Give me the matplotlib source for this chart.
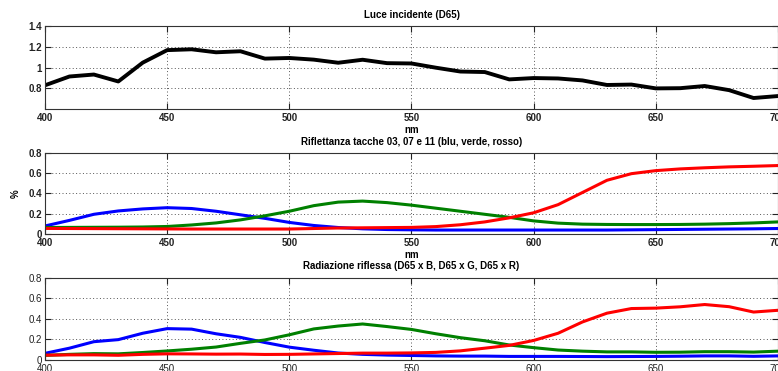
"""Luce incidente D65, riflettanza tacche e radiazione riflessa."""
import matplotlib
matplotlib.use("Agg")
import matplotlib.pyplot as plt

plt.rcParams["font.family"] = ["Liberation Sans Narrow", "Liberation Sans",
                               "DejaVu Sans"]

nm = list(range(400, 701, 10))

# Luce incidente (D65), normalizzata a 1 in 560 nm
d65 = [0.83, 0.915, 0.934, 0.867, 1.049, 1.170, 1.178, 1.149, 1.159, 1.088,
       1.094, 1.078, 1.048, 1.077, 1.044, 1.041, 1.000, 0.963, 0.958, 0.887,
       0.900, 0.896, 0.877, 0.833, 0.837, 0.800, 0.802, 0.823, 0.783, 0.707,
       0.726]

# Riflettanza tacche 03 (blu), 07 (verde), 11 (rosso)
refl_blu = [0.08, 0.135, 0.195, 0.228, 0.248, 0.26, 0.252, 0.225, 0.19,
            0.155, 0.115, 0.085, 0.065, 0.052, 0.045, 0.042, 0.040, 0.040,
            0.040, 0.040, 0.040, 0.040, 0.040, 0.040, 0.042, 0.044, 0.046,
            0.048, 0.050, 0.052, 0.055]
refl_verde = [0.065, 0.066, 0.067, 0.068, 0.07, 0.075, 0.09, 0.11, 0.14,
              0.18, 0.225, 0.28, 0.315, 0.325, 0.31, 0.285, 0.255, 0.225,
              0.195, 0.165, 0.13, 0.108, 0.098, 0.095, 0.094, 0.094, 0.095,
              0.098, 0.103, 0.11, 0.12]
refl_rosso = [0.056, 0.055, 0.054, 0.053, 0.052, 0.051, 0.05, 0.05, 0.05,
              0.05, 0.05, 0.055, 0.06, 0.062, 0.064, 0.066, 0.074, 0.092,
              0.12, 0.16, 0.21, 0.29, 0.41, 0.53, 0.595, 0.625, 0.642, 0.653,
              0.662, 0.668, 0.675]

# Radiazione riflessa (D65 x B, D65 x G, D65 x R)
rad_blu = [0.065, 0.115, 0.178, 0.198, 0.26, 0.305, 0.30, 0.255, 0.22, 0.17,
           0.125, 0.095, 0.068, 0.055, 0.048, 0.044, 0.04, 0.038, 0.038,
           0.035, 0.035, 0.035, 0.034, 0.033, 0.034, 0.035, 0.037, 0.04,
           0.04, 0.036, 0.04]
rad_verde = [0.045, 0.055, 0.062, 0.06, 0.073, 0.088, 0.105, 0.126, 0.162,
             0.195, 0.245, 0.302, 0.33, 0.35, 0.325, 0.297, 0.255, 0.217,
             0.187, 0.146, 0.12, 0.097, 0.086, 0.079, 0.079, 0.075, 0.076,
             0.081, 0.081, 0.077, 0.086]
rad_rosso = [0.047, 0.05, 0.05, 0.046, 0.055, 0.06, 0.059, 0.057, 0.058,
             0.054, 0.055, 0.059, 0.063, 0.067, 0.067, 0.069, 0.074, 0.089,
             0.115, 0.142, 0.19, 0.26, 0.37, 0.455, 0.5, 0.504, 0.517,
             0.539, 0.518, 0.466, 0.483]

x_ticks = [400, 450, 500, 550, 600, 650, 700]


def style_axes(ax, yticks, ylim, bold=True):
    ax.set_xlim(400, 700)
    ax.set_ylim(*ylim)
    ax.set_xticks(x_ticks)
    ax.set_yticks(yticks)
    ax.set_yticklabels([f"{v:g}" for v in yticks])
    ax.tick_params(direction="in", length=4, width=0.8, top=True,
                   right=True, labelsize=7, pad=3, colors="#222222")
    ax.tick_params(axis="y", pad=2)
    weight = "bold" if bold else "normal"
    for lab in ax.get_xticklabels() + ax.get_yticklabels():
        lab.set_fontweight(weight)
    ax.grid(True, linestyle=(0, (1, 2.5)), color="#555555", linewidth=0.7)
    for s in ax.spines.values():
        s.set_color("#333333")
        s.set_linewidth(0.8)


fig = plt.figure(figsize=(7.78, 3.71), dpi=100)
left, width = 45 / 778, 733 / 778

ax1 = fig.add_axes([left, 0.706, width, 0.223])
ax1.plot(nm, d65, color="black", linewidth=2.8)
style_axes(ax1, [0.8, 1, 1.2, 1.4], (0.6, 1.4))
ax1.set_title("Luce incidente (D65)", fontsize=7, fontweight="bold", pad=6)
ax1.set_xlabel("nm", fontsize=7, fontweight="bold", labelpad=1)

ax2 = fig.add_axes([left, 0.369, width, 0.219])
ax2.plot(nm, refl_blu, color="blue", linewidth=2.2)
ax2.plot(nm, refl_verde, color="green", linewidth=2.2)
ax2.plot(nm, refl_rosso, color="red", linewidth=2.2)
style_axes(ax2, [0, 0.2, 0.4, 0.6, 0.8], (0, 0.8))
ax2.set_title("Riflettanza tacche 03, 07 e 11 (blu, verde, rosso)",
              fontsize=7, fontweight="bold", pad=6)
ax2.set_xlabel("nm", fontsize=7, fontweight="bold", labelpad=1)
ax2.set_ylabel("%", fontsize=7, fontweight="bold", labelpad=6)

ax3 = fig.add_axes([left, 0.0296, width, 0.222])
ax3.plot(nm, rad_blu, color="blue", linewidth=2.2)
ax3.plot(nm, rad_verde, color="green", linewidth=2.2)
ax3.plot(nm, rad_rosso, color="red", linewidth=2.2)
style_axes(ax3, [0, 0.2, 0.4, 0.6, 0.8], (0, 0.8), bold=False)
ax3.set_title("Radiazione riflessa (D65 x B, D65 x G, D65 x R)",
              fontsize=7, fontweight="bold", pad=6)

fig.savefig("out.png", dpi=100, facecolor="white")
